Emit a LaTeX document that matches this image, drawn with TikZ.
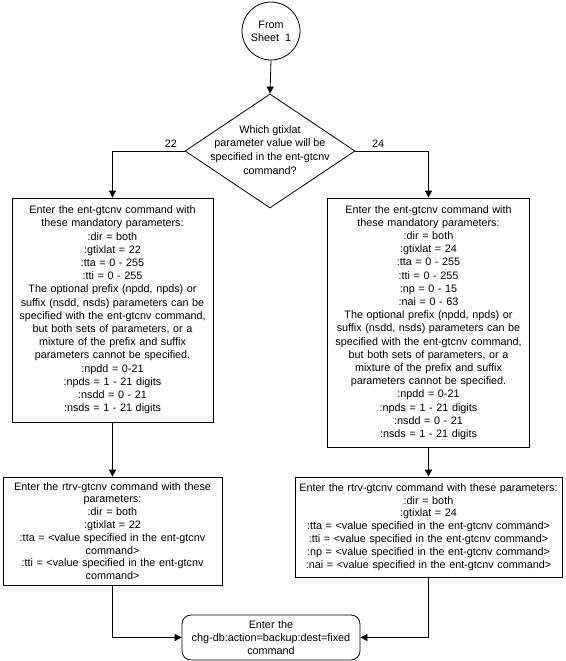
\documentclass[tikz,border=0pt]{standalone}
\usepackage{fontspec}
\setmainfont{Liberation Sans}
\usetikzlibrary{arrows.meta,shapes.geometric}
\begin{document}
\begin{tikzpicture}[x=1pt,y=-1pt,
  font=\fontsize{10.8}{13.2}\selectfont,
  line width=0.8pt,
  arr/.style={draw, -{Triangle[length=7pt,width=7pt]}},
  box/.style={draw, align=center, inner xsep=0pt, inner ysep=0pt},
  box2/.style={box, font=\fontsize{10.8}{12.8}\selectfont},
  lbl/.style={inner sep=0pt, above=3pt}]
\useasboundingbox (0,0) rectangle (565,661);

\node[draw, circle, minimum size=58pt, inner sep=0pt, align=center,
      font=\fontsize{10.8}{13}\selectfont] (c) at (271,31) {From\\Sheet\ \ 1};

\node[draw, diamond, minimum width=170pt, minimum height=114pt, inner sep=0pt] (d) at (270,151) {};
\node[align=center, inner sep=0pt, font=\fontsize{10.8}{13.8}\selectfont] (dt) at (270,150)
  {Which gtixlat\\parameter value will be\\specified in the ent-gtcnv\\command?};

\node[box, text width=201pt, minimum height=224pt] (l1) at (112.5,310)
  {Enter the ent-gtcnv command with\\these mandatory parameters:\\:dir = both\\:gtixlat = 22\\:tta = 0 - 255\\:tti = 0 - 255\\The optional prefix (npdd, npds) or\\suffix (nsdd, nsds) parameters can be\\specified with the ent-gtcnv command,\\but both sets of parameters, or a\\mixture of the prefix and suffix\\parameters cannot be specified.\\:npdd = 0-21\\:npds = 1 - 21 digits\\:nsdd = 0 - 21\\:nsds = 1 - 21 digits};

\node[box, text width=202pt, minimum height=249pt] (r1) at (428.5,322.5)
  {Enter the ent-gtcnv command with\\these mandatory parameters:\\:dir = both\\:gtixlat = 24\\:tta = 0 - 255\\:tti = 0 - 255\\:np = 0 - 15\\:nai = 0 - 63\\The optional prefix (npdd, npds) or\\suffix (nsdd, nsds) parameters can be\\specified with the ent-gtcnv command,\\but both sets of parameters, or a\\mixture of the prefix and suffix\\parameters cannot be specified.\\:npdd = 0-21\\:npds = 1 - 21 digits\\:nsdd = 0 - 21\\:nsds = 1 - 21 digits};

\node[box2, text width=219pt, minimum height=108pt] (l2) at (112.5,531)
  {Enter the rtrv-gtcnv command with these\\parameters:\\:dir = both\\:gtixlat = 22\\:tta = <value specified in the ent-gtcnv\\command>\\:tti = <value specified in the ent-gtcnv\\command>};

\node[box2, text width=267pt, minimum height=100pt] (r2) at (428.5,527)
  {Enter the rtrv-gtcnv command with these parameters:\\:dir = both\\:gtixlat = 24\\:tta = <value specified in the ent-gtcnv command>\\:tti = <value specified in the ent-gtcnv command>\\:np = <value specified in the ent-gtcnv command>\\:nai = <value specified in the ent-gtcnv command>};

\node[box, rounded corners=9pt, text width=178pt, minimum height=45pt] (e) at (271,637.5)
  {Enter the\\chg-db:action=backup:dest=fixed\\command};

\draw[arr] (c.south) -- (d.north);
\draw[arr] (d.west) -| node[lbl, pos=0.096] (n22) {22} (l1.north);
\draw[arr] (d.east) -| node[lbl, pos=0.155] (n24) {24} (r1.north);
\draw[arr] (l1.south) -- (l2.north);
\draw[arr] (r1.south) -- (r2.north);
\draw[arr] (l2.south) |- (e.west);
\draw[arr] (r2.south) |- (e.east);
\end{tikzpicture}
\end{document}
